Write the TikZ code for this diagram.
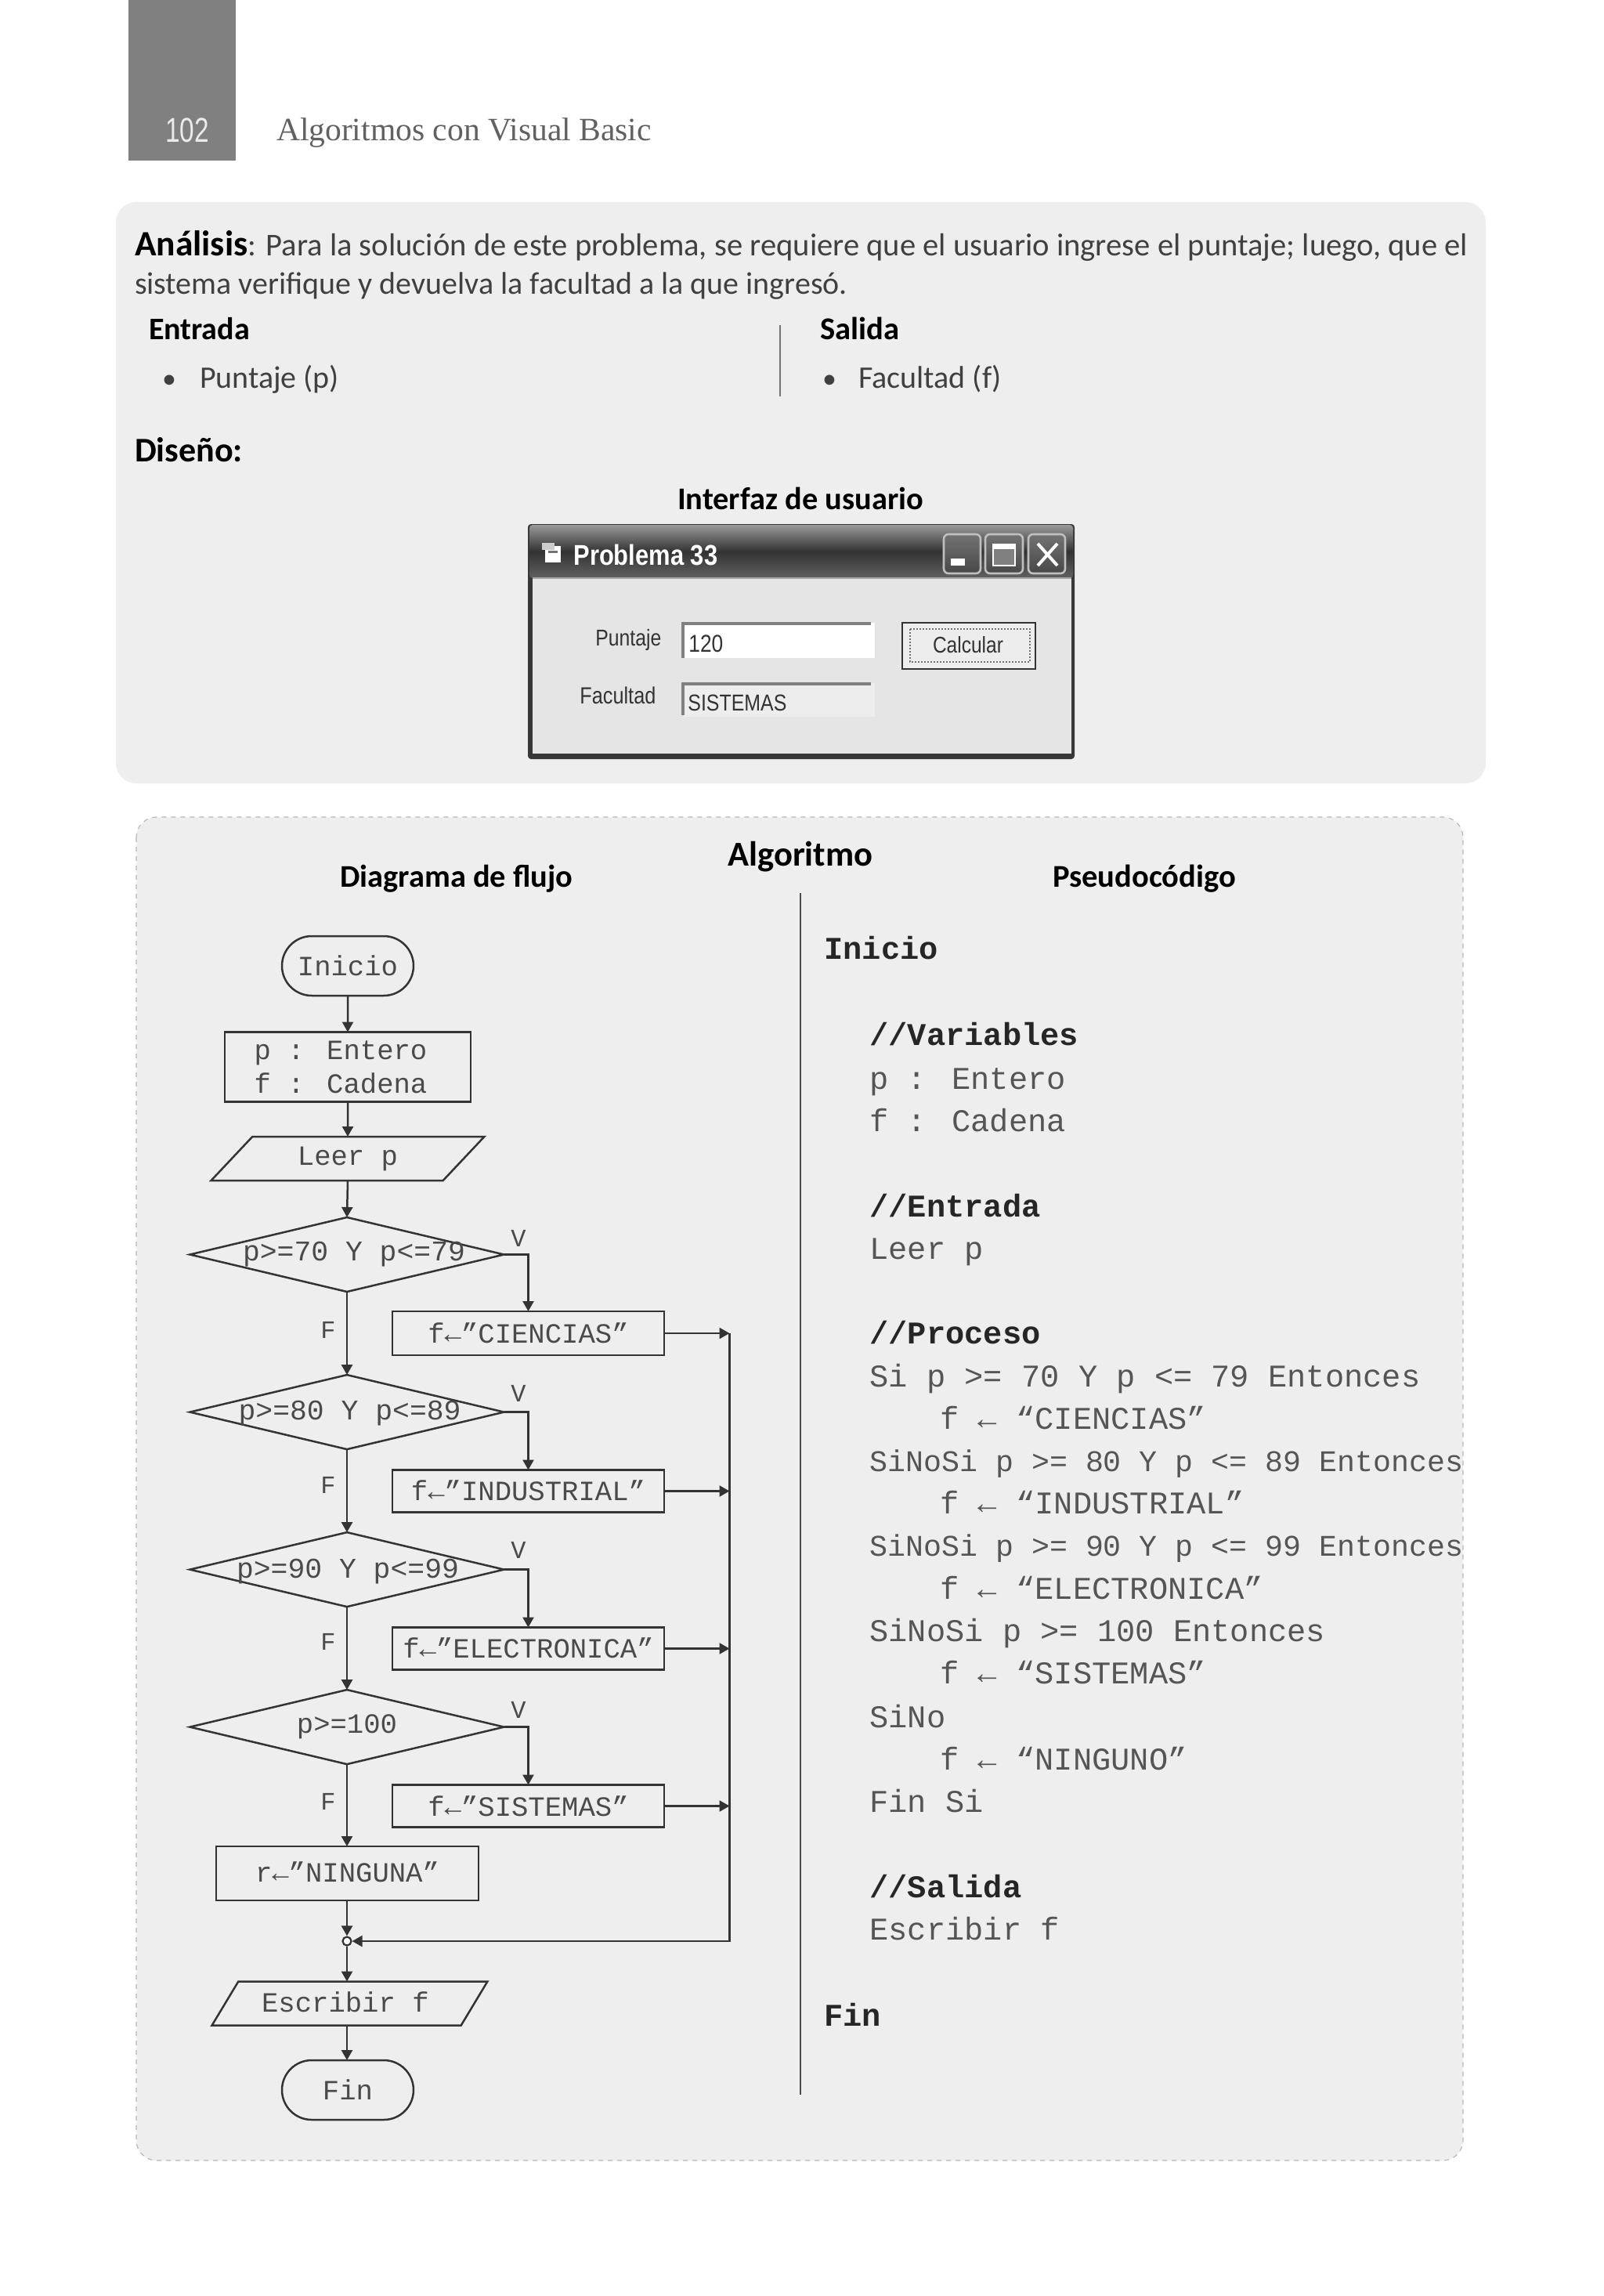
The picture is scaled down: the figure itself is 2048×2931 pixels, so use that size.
\documentclass[tikz,border=0pt]{standalone}
\usepackage{fontspec}
\usepackage{graphicx}
\setmainfont{Carlito}
\newfontfamily\monof{Liberation Mono}
\newfontfamily\sansf{Liberation Sans}
\newfontfamily\serff{Liberation Serif}
\usetikzlibrary{shapes.geometric,shapes.misc,arrows.meta}
\definecolor{panelc}{HTML}{EEEEEE}
\definecolor{flowc}{HTML}{333333}
\definecolor{flowt}{HTML}{4A4A4A}
\definecolor{codec}{HTML}{555555}
\newcommand{\fw}[2]{\resizebox{\dimexpr #1pt/2\relax}{!}{#2}}
\newcommand{\fwt}[2]{\scalebox{1}[1.18]{\fw{#1}{#2}}}
\tikzset{
  x=0.5pt,y=-0.5pt,
  txt/.style={inner sep=0pt,outer sep=0pt,text=#1,anchor=mid west},
  txt/.default=black,
  ctr/.style={inner sep=0pt,outer sep=0pt,text=black,anchor=center},
  code/.style={inner sep=0pt,anchor=mid west,text=codec,font=\monof\fontsize{20.2pt}{22pt}\selectfont},
  codeb/.style={inner sep=0pt,anchor=mid west,text=black!85,font=\monof\bfseries\fontsize{20.2pt}{22pt}\selectfont},
  fl/.style={draw=flowc,line width=1.25pt,inner sep=0pt,outer sep=0pt,text=flowt,align=center,font=\monof\fontsize{17.8pt}{21.5pt}\selectfont},
  term/.style={fl,rounded rectangle,minimum width=84pt,minimum height=38pt},
  proc/.style={fl,rectangle},
  dec/.style={fl,diamond,aspect=4.2,minimum width=200.5pt,minimum height=47.5pt},
  inout/.style={fl,trapezium,trapezium left angle=48,trapezium right angle=132,trapezium stretches=true,minimum width=176pt,minimum height=28pt},
  flab/.style={inner sep=0pt,text=flowt,font=\monof\fontsize{16pt}{18pt}\selectfont},
  dlab/.style={flab,font=\monof\fontsize{18.2pt}{20pt}\selectfont},
  arr/.style={draw=flowc,line width=1.25pt,-{Triangle[length=6.5pt,width=7pt]}},
  wintxt/.style={inner sep=0pt,text=black!80,font=\sansf\fontsize{12.4pt}{14pt}\selectfont},
}
\begin{document}
\begin{tikzpicture}
\useasboundingbox (0,0) rectangle (2048,2931);
\fill[white] (0,0) rectangle (2048,2931);
% header
\fill[black!50] (164,0) rectangle (301,205);
\node[ctr,text=white!92!black,font=\sansf] (pg) at (239,166) {\scalebox{0.76}[1]{\fontsize{22pt}{24pt}\selectfont 102}};
\node[txt=black!62,font=\serff\fontsize{20pt}{24pt}\selectfont] (hd) at (353,175) {\fw{479}{Algoritmos con Visual Basic}};
% top panel
\fill[panelc,rounded corners=13pt] (148,258) rectangle (1897,1000);
\node[txt=black!75,font=\fontsize{18pt}{22pt}\selectfont] (l1) at (172,322) {\fw{1702}{\textcolor{black}{\fontsize{20.2pt}{22pt}\selectfont\bfseries Análisis}: Para la solución de este problema, se requiere que el usuario ingrese el puntaje; luego, que el}};
\node[txt=black!75,font=\fontsize{18pt}{22pt}\selectfont] (l2) at (172,371) {\fw{910}{sistema verifique y devuelva la facultad a la que ingresó.}};
\node[txt,font=\bfseries\fontsize{18pt}{22pt}\selectfont] (ent) at (190,429) {\fw{129}{Entrada}};
\node[txt,font=\bfseries\fontsize{18pt}{22pt}\selectfont] (sal) at (1047,429) {\fw{101}{Salida}};
\node[txt=black!75,font=\fontsize{18pt}{22pt}\selectfont] (b1) at (207,491) {•};
\node[txt=black!75,font=\fontsize{18pt}{22pt}\selectfont] (pun) at (255,491) {\fw{178}{Puntaje (p)}};
\node[txt=black!75,font=\fontsize{18pt}{22pt}\selectfont] (b2) at (1050,491) {•};
\node[txt=black!75,font=\fontsize{18pt}{22pt}\selectfont] (fac) at (1096,491) {\fw{183}{Facultad (f)}};
\draw[black!55,line width=0.8pt] (996,415) -- (996,506);
\node[txt,font=\bfseries\fontsize{20pt}{24pt}\selectfont] (dis) at (172,585) {\fw{138}{Diseño:}};
\node[ctr,font=\bfseries\fontsize{18pt}{22pt}\selectfont] (itf) at (1022,636) {\fw{314}{Interfaz de usuario}};
% window
\fill[black!78,rounded corners=2pt] (674,669) rectangle (1372,969);
\shade[top color=black!40,bottom color=black!62,middle color=black!80,rounded corners=2pt] (676,670) rectangle (1370,738);
\fill[black!10] (680,738) rectangle (1368,962);
\draw[black!35,line width=0.8pt] (680,738) -- (1368,738);
\fill[white] (696,697) rectangle (716,718);
\fill[white!80!black] (692,693) rectangle (708,702);
\fill[black!55] (700,703) rectangle (712,706);
\node[inner sep=0pt,text=white,font=\sansf\bfseries\fontsize{15.5pt}{18pt}\selectfont,anchor=mid west] (wt) at (732,717) {\fwt{184}{Problema 33}};
\foreach \xa/\xb in {1205/1252,1258/1306,1313/1360}{
  \shade[top color=black!55,bottom color=black!72,draw=black!25,line width=1.3pt,rounded corners=3pt] (\xa,682) rectangle (\xb,732);
}
\fill[white] (1214,713) rectangle (1232,722);
\draw[white,line width=1.2pt,fill=black!50] (1268,695) rectangle (1296,722);
\fill[white] (1268,694) rectangle (1296,701);
\draw[white,line width=2pt] (1325,694) -- (1350,722) (1350,694) -- (1325,722);
\node[wintxt,anchor=mid west] (wl1) at (760,820) {\fwt{84}{Puntaje}};
\node[wintxt,anchor=mid west] (wl2) at (740,894) {\fwt{97}{Facultad}};
\fill[white] (872,795) rectangle (1117,840);
\draw[black!50,line width=1.6pt] (872,840) -- (872,796) -- (1112,796);
\node[wintxt,anchor=mid west,font=\sansf\fontsize{13.5pt}{15pt}\selectfont] (wv1) at (879,828) {\fwt{44}{120}};
\fill[black!7] (872,872) rectangle (1117,915);
\draw[black!50,line width=1.6pt] (872,913) -- (872,873) -- (1112,873);
\node[wintxt,anchor=mid west,font=\sansf\fontsize{13.5pt}{15pt}\selectfont] (wv2) at (878,903) {\fwt{126}{SISTEMAS}};
\fill[black!7] (1151,794) rectangle (1323,855);
\draw[black!80,line width=1.4pt] (1152,795) rectangle (1322,854);
\draw[black!55,line width=1pt,densely dotted] (1162,803) rectangle (1315,845);
\node[wintxt,anchor=center] (wb) at (1236,823) {\fwt{90}{Calcular}};
% algorithm panel
\draw[black!28,fill=panelc,dashed,line width=0.6pt,rounded corners=13pt] (174,1043) rectangle (1868,2758);
\node[ctr,font=\bfseries\fontsize{21pt}{24pt}\selectfont] (alg) at (1022,1094) {\fw{185}{Algoritmo}};
\node[ctr,font=\bfseries\fontsize{18pt}{22pt}\selectfont] (df) at (583,1122) {\fw{297}{Diagrama de flujo}};
\node[ctr,font=\bfseries\fontsize{18pt}{22pt}\selectfont] (ps) at (1461,1122) {\fw{234}{Pseudocódigo}};
\draw[black!70,line width=0.9pt] (1022,1140) -- (1022,2674);
% flowchart
\node[term] (ini) at (444,1233) {Inicio};
\node[proc,minimum width=157pt,minimum height=44.5pt] (dcl) at (444,1362) {p : Entero\hspace*{9pt}\\f : Cadena\hspace*{9pt}};
\node[inout] (lee) at (444,1479) {Leer p};
\node[dec,label={[dlab,xshift=4.5pt,yshift=0.1pt]center:p>=70 Y p<=79}] (d1) at (443,1601.5) {};
\node[proc,minimum width=173.5pt,minimum height=28pt] (c1) at (674.5,1702) {f←”CIENCIAS”};
\node[dec,label={[dlab,xshift=1.8pt,yshift=-0.9pt]center:p>=80 Y p<=89}] (d2) at (443,1802.6) {};
\node[proc,minimum width=173.5pt,minimum height=27pt] (c2) at (674.5,1903.5) {\raisebox{0.9pt}{f←”INDUSTRIAL”}};
\node[dec,label={[dlab,xshift=0.5pt,yshift=-1.4pt]center:p>=90 Y p<=99}] (d3) at (443,2003.6) {};
\node[proc,minimum width=173.5pt,minimum height=27pt] (c3) at (674.5,2104.5) {\raisebox{0.9pt}{f←”ELECTRONICA”}};
\node[dec] (d4) at (443,2204.6) {\raisebox{-1.9pt}{p>=100}};
\node[proc,minimum width=173.5pt,minimum height=27pt] (c4) at (674.5,2305.5) {f←”SISTEMAS”};
\node[proc,minimum width=167.5pt,minimum height=34.5pt] (nn) at (443.5,2391.5) {\raisebox{1.9pt}{r←”NINGUNA”}};
\node[circle,draw=flowc,fill=white,line width=1.1pt,minimum size=5.5pt,inner sep=0pt] (jn) at (443,2478) {};
\node[inout] (esc) at (446.5,2557.5) {\raisebox{1.9pt}{Escribir f}\hspace*{5.6pt}};
\node[term] (fin) at (444,2668) {Fin};
\coordinate (bus) at (931.5,2478);
\coordinate (bt) at (931.5,1702);
\draw[arr] (ini) -- (dcl);
\draw[arr] (dcl) -- (lee);
\draw[arr] (lee.south) -- (d1.north);
\draw[arr] (d1.south) -- (d2.north);
\draw[arr] (d2.south) -- (d3.north);
\draw[arr] (d3.south) -- (d4.north);
\draw[arr] (d4.south) -- (d4.south |- nn.north);
\draw[arr] (nn.south -| jn) -- (jn.north);
\draw[arr] (jn.south) -- (jn |- esc.north);
\draw[arr] (esc.south -| jn) -- (jn |- fin.north);
\draw[arr] (d1.east) -| (c1.north);
\draw[arr] (d2.east) -| (c2.north);
\draw[arr] (d3.east) -| (c3.north);
\draw[arr] (d4.east) -| (c4.north);
\draw[arr] (c1.east) -- (bt);
\draw[arr] (c2.east) -- (c2.east -| bt);
\draw[arr] (c3.east) -- (c3.east -| bt);
\draw[arr] (c4.east) -- (c4.east -| bt);
\draw[arr] (bt) -- (bus) -- (jn.east);
\node[flab] (v1) at (662,1581) {V};
\node[flab] (v2) at (662,1779) {V};
\node[flab] (v3) at (662,1979) {V};
\node[flab] (v4) at (662,2183) {V};
\node[flab] (f1) at (419,1698) {F};
\node[flab] (f2) at (419,1896) {F};
\node[flab] (f3) at (419,2096) {F};
\node[flab] (f4) at (419,2300) {F};
% pseudocode
\node[codeb] (p1) at (1052,1220) {Inicio};
\node[codeb] (p2) at (1110,1330) {//Variables};
\node[code] (p3) at (1110,1386) {p : Entero};
\node[code] (p4) at (1110,1440) {f : Cadena};
\node[codeb] (p5) at (1110,1549) {//Entrada};
\node[code] (p6) at (1110,1603) {Leer p};
\node[codeb] (p7) at (1110,1711) {//Proceso};
\node[code] (p8) at (1110,1766) {Si p >= 70 Y p <= 79 Entonces};
\node[code] (p9) at (1200,1820) {f ← “CIENCIAS”};
\node[code] (p10) at (1110,1874) {\resizebox{379pt}{!}{SiNoSi p >= 80 Y p <= 89 Entonces}};
\node[code] (p11) at (1200,1928) {f ← “INDUSTRIAL”};
\node[code] (p12) at (1110,1982) {\resizebox{379pt}{!}{SiNoSi p >= 90 Y p <= 99 Entonces}};
\node[code] (p13) at (1200,2037) {f ← “ELECTRONICA”};
\node[code] (p14) at (1110,2091) {SiNoSi p >= 100 Entonces};
\node[code] (p15) at (1200,2145) {f ← “SISTEMAS”};
\node[code] (p16) at (1110,2201) {SiNo};
\node[code] (p17) at (1200,2255) {f ← “NINGUNO”};
\node[code] (p18) at (1110,2309) {Fin Si};
\node[codeb] (p19) at (1110,2418) {//Salida};
\node[code] (p20) at (1110,2472) {Escribir f};
\node[codeb] (p21) at (1052,2582) {Fin};
\end{tikzpicture}
\end{document}
